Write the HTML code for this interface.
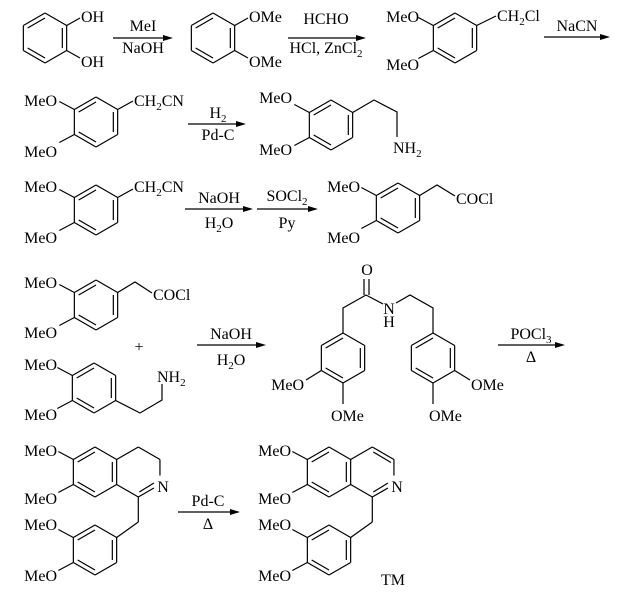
<!DOCTYPE html>
<html><head><meta charset="utf-8"><style>
html,body{margin:0;padding:0;background:#fff;}
svg{display:block}
text{font-family:"Liberation Serif",serif;font-size:16px;fill:#000}
.s{font-size:11px}
</style></head><body>
<svg id="sv" width="638" height="593" viewBox="0 0 638 593" xmlns="http://www.w3.org/2000/svg">
<g id="b" stroke="#000" stroke-width="1.2" fill="none"></g>
<!-- row 1 -->
<text x="81" y="22">OH</text><text x="81" y="67">OH</text>
<text x="143" y="31" text-anchor="middle">MeI</text><text x="143" y="53" text-anchor="middle">NaOH</text>
<text x="249" y="22">OMe</text><text x="249" y="67">OMe</text>
<text x="326" y="24" text-anchor="middle">HCHO</text><text x="326" y="53" text-anchor="middle">HCl, ZnCl<tspan class="s" dy="4">2</tspan></text>
<text x="419" y="22" text-anchor="end">MeO</text><text x="419" y="70" text-anchor="end">MeO</text>
<text x="497" y="21">CH<tspan class="s" dy="4">2</tspan><tspan dy="-4">Cl</tspan></text>
<text x="577" y="31" text-anchor="middle">NaCN</text>
<!-- row 2 -->
<text x="57" y="106" text-anchor="end">MeO</text><text x="57" y="157" text-anchor="end">MeO</text>
<text x="134" y="106">CH<tspan class="s" dy="4">2</tspan><tspan dy="-4">CN</tspan></text>
<text x="218" y="118" text-anchor="middle">H<tspan class="s" dy="4">2</tspan></text><text x="218" y="140" text-anchor="middle">Pd-C</text>
<text x="292" y="103" text-anchor="end">MeO</text><text x="292" y="155" text-anchor="end">MeO</text>
<text x="393" y="153">NH<tspan class="s" dy="4">2</tspan></text>
<!-- row 3 -->
<text x="57" y="192" text-anchor="end">MeO</text><text x="57" y="243" text-anchor="end">MeO</text>
<text x="134" y="192">CH<tspan class="s" dy="4">2</tspan><tspan dy="-4">CN</tspan></text>
<text x="219" y="203" text-anchor="middle">NaOH</text><text x="219" y="228" text-anchor="middle">H<tspan class="s" dy="4">2</tspan><tspan dy="-4">O</tspan></text>
<text x="287" y="201" text-anchor="middle">SOCl<tspan class="s" dy="4">2</tspan></text><text x="287" y="228" text-anchor="middle">Py</text>
<text x="360" y="192" text-anchor="end">MeO</text><text x="360" y="243" text-anchor="end">MeO</text>
<text x="456" y="204">COCl</text>
<!-- row 4 -->
<text x="57" y="288" text-anchor="end">MeO</text><text x="57" y="338" text-anchor="end">MeO</text>
<text x="153" y="300">COCl</text>
<text x="139" y="352" text-anchor="middle">+</text>
<text x="57" y="370" text-anchor="end">MeO</text><text x="57" y="420" text-anchor="end">MeO</text>
<text x="157" y="382">NH<tspan class="s" dy="4">2</tspan></text>
<text x="231" y="339" text-anchor="middle">NaOH</text><text x="231" y="365" text-anchor="middle">H<tspan class="s" dy="4">2</tspan><tspan dy="-4">O</tspan></text>
<text x="367" y="275" text-anchor="middle">O</text>
<text x="389" y="314" text-anchor="middle">N</text><text x="389" y="327" text-anchor="middle">H</text>
<text x="304" y="390" text-anchor="end">MeO</text><text x="331" y="421">OMe</text>
<text x="471" y="390">OMe</text><text x="429" y="421">OMe</text>
<text x="531" y="339" text-anchor="middle">POCl<tspan class="s" dy="4">3</tspan></text><text x="531" y="362" text-anchor="middle">Δ</text>
<!-- row 5 -->
<text x="57" y="456" text-anchor="end">MeO</text><text x="57" y="504" text-anchor="end">MeO</text>
<text x="163" y="492" text-anchor="middle">N</text>
<text x="57" y="530" text-anchor="end">MeO</text><text x="57" y="581" text-anchor="end">MeO</text>
<text x="208" y="506" text-anchor="middle">Pd-C</text><text x="208" y="529" text-anchor="middle">Δ</text>
<text x="291" y="456" text-anchor="end">MeO</text><text x="291" y="504" text-anchor="end">MeO</text>
<text x="397" y="492" text-anchor="middle">N</text>
<text x="291" y="530" text-anchor="end">MeO</text><text x="291" y="581" text-anchor="end">MeO</text>
<text x="381" y="585">TM</text>
</svg>
<script>
var g=document.getElementById('b'),S=25,k=0.866*S,o='';
function L(a,b,c,d){o+='<line x1="'+a+'" y1="'+b+'" x2="'+c+'" y2="'+d+'"/>';}
function P(pts){var s='';for(var i=0;i<pts.length;i++)s+=pts[i][0]+','+pts[i][1]+' ';o+='<polyline points="'+s+'"/>';}
function V(cx,cy){return [[cx,cy-S],[cx+k,cy-S/2],[cx+k,cy+S/2],[cx,cy+S],[cx-k,cy+S/2],[cx-k,cy-S/2]];}
function R(cx,cy,d,sides){var v=V(cx,cy);sides=sides||[0,1,2,3,4,5];
 for(var j=0;j<sides.length;j++){var i=sides[j],a=v[i],b=v[(i+1)%6];L(a[0],a[1],b[0],b[1]);}
 (d||[]).forEach(function(i){var a=v[i],b=v[(i+1)%6],f=0.8;L(cx+(a[0]-cx)*f,cy+(a[1]-cy)*f,cx+(b[0]-cx)*f,cy+(b[1]-cy)*f);});return v;}
function A(x1,x2,y){L(x1,y,x2-8,y);o+='<polygon points="'+x2+','+y+' '+(x2-10)+','+(y-3)+' '+(x2-10)+','+(y+3)+'" fill="#000" stroke="none"/>';}
function dm(v){L(v[5][0],v[5][1],v[5][0]-15,v[5][1]-8);L(v[4][0],v[4][1],v[4][0]-15,v[4][1]+8);}
var v;
v=R(45,38,[1,3,5]);L(v[1][0],v[1][1],80,18);L(v[2][0],v[2][1],80,58);
A(113,173,38);
v=R(213,38,[1,3,5]);L(v[1][0],v[1][1],248,18);L(v[2][0],v[2][1],248,58);
A(288,366,38);
v=R(455,38,[1,3,5]);dm(v);L(v[1][0],v[1][1],496,16);
A(544,610,37);
v=R(96,122,[1,3,5]);dm(v);L(v[1][0],v[1][1],133,101);
A(188,246,124);
v=R(331,125,[1,3,5]);dm(v);P([v[1],[374,100],[397,112],[397,137]]);
v=R(96,210,[1,3,5]);dm(v);L(v[1][0],v[1][1],133,189);
A(185,253,209);A(257,318,209);
v=R(398,208,[1,3,5]);dm(v);P([v[1],[437,185],[455,196]]);
v=R(96,305,[1,3,5]);dm(v);P([v[1],[135,282],[152,293]]);
v=R(94,388,[1,3,5]);dm(v);P([v[2],[140,413],[162,400],[162,384]]);
A(197,266,345);
v=R(343,358,[1,3,5]);P([v[0],[343,308],[366,295],[383,304]]);L(v[4][0],v[4][1],306,380);L(v[3][0],v[3][1],343,404);
L(364,295,364,279);L(369,295,369,279);
v=R(433,358,[1,3,5]);P([[396,303],[410,295],[433,308],v[0]]);L(v[2][0],v[2][1],470,380);L(v[3][0],v[3][1],433,404);
A(498,565,345);
function iq(dx,arom){var a=R(95+dx,472,[1,3,5]);dm(a);var c=138.3+dx,w=V(c,472);
 L(w[5][0],w[5][1],w[0][0],w[0][1]);
 L(w[0][0],w[0][1],w[1][0],w[1][1]);L(w[1][0],w[1][1],w[2][0],w[2][1]-9);
 L(w[3][0],w[3][1],w[4][0],w[4][1]);
 L(w[3][0],w[3][1],w[2][0]-6,w[2][1]+3.5);L(w[3][0]+1,w[3][1]-5,w[2][0]-6,w[2][1]-1.5);
 if(arom){L(w[0][0]+1,w[0][1]+5,w[1][0]-3,w[1][1]+3);}
 L(w[3][0],w[3][1],w[3][0],522);var b=R(95+dx,550,[1,3,5]);dm(b);L(w[3][0],522,b[1][0],b[1][1]);}
iq(0,false);A(178,240,512);iq(234,true);
g.innerHTML=o;
</script>
</body></html>
